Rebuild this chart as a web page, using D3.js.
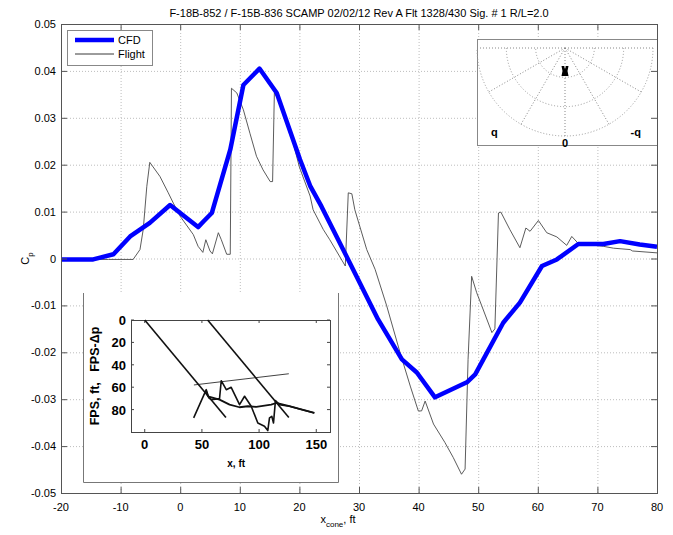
<!DOCTYPE html>
<html>
<head>
<meta charset="utf-8">
<script src="https://cdn.jsdelivr.net/npm/d3@7"></script>
<style>
  body { margin: 0; background: #fff; }
  text { font-family: "Liberation Sans", Arial, sans-serif; fill: #000; }
</style>
</head>
<body>
<script>
// ---- data ----
let title = 'F-18B-852 / F-15B-836 SCAMP 02/02/12 Rev A Flt 1328/430 Sig. # 1 R/L=2.0';
let seriesNames = ['CFD', 'Flight'];
let xTicks = [-20, -10, 0, 10, 20, 30, 40, 50, 60, 70, 80];
let yTicks = [-0.05, -0.04, -0.03, -0.02, -0.01, 0, 0.01, 0.02, 0.03, 0.04, 0.05];
let yTickLabels = ['-0.05', '-0.04', '-0.03', '-0.02', '-0.01', '0', '0.01', '0.02', '0.03', '0.04', '0.05'];

let cfdX  = [-20, -14.6, -11.2, -8.4, -5.1, -1.7, 3.0, 3.9, 5.3, 8.4, 10.6, 13.3, 16.2, 20.1, 21.8, 23.7, 27.9,
             33.2, 37.2, 39.7, 42.75, 48.1, 49.5, 54.2, 57.0, 60.7, 63.2, 66.8, 71.0, 73.8, 77.1, 80];
let cfdCp = [-0.0002, -0.0002, 0.0009, 0.0047, 0.0076, 0.0114, 0.0067, 0.0079, 0.0097, 0.0232, 0.037, 0.0405,
             0.0353, 0.0211, 0.0155, 0.0111, 0.0005, -0.013, -0.0215, -0.0243, -0.0296, -0.0264, -0.0247,
             -0.0137, -0.0094, -0.0016, -0.0002, 0.0031, 0.0031, 0.0037, 0.003, 0.0025];

let flightX  = [-20, -12, -7.9, -6.75, -6.2, -5.6, -5.1, -3.4, -2.0, -1.15, 0, 2.2, 3.0, 3.8, 4.3, 5.0, 5.4, 6.4,
                6.9, 7.8, 8.4, 8.6, 9.5, 10.6, 11.7, 12.8, 13.9, 15.1, 15.5, 15.8, 16.2, 18.4, 20.0, 21.8, 22.3,
                24.0, 25.1, 27.7, 28.2, 28.8, 29.3, 31.3, 32.7, 34.65, 36.9, 38.6, 39.95, 40.5, 41.1, 42.5, 44.4,
                45.8, 47.2, 47.8, 48.3, 48.9, 49.75, 50.6, 52.3, 52.8, 53.4, 53.8, 55.3, 57.0, 58.0, 58.7, 60.1,
                61.5, 63.2, 64.85, 65.7, 66.8, 71.0, 72.7, 75.5, 75.9, 80];
let flightCp = [-0.0002, -0.0002, -0.0002, 0.0019, 0.0062, 0.0154, 0.0205, 0.0175, 0.014, 0.0118, 0.009, 0.0051,
                0.0026, 0.0013, 0.004, 0.0016, 0.001, 0.0055, 0.004, 0.0009, 0.0009, 0.0363, 0.0353, 0.0317,
                0.0267, 0.0218, 0.0189, 0.0164, 0.0164, 0.0353, 0.0345, 0.0274, 0.0195, 0.0133, 0.0104, 0.0062,
                0.004, -0.0016, 0.014, 0.0138, 0.0104, 0.0019, -0.0023, -0.0101, -0.0201, -0.0272, -0.0325,
                -0.0325, -0.0304, -0.0353, -0.0392, -0.0424, -0.046, -0.0449, -0.0215, -0.0038, -0.0073,
                -0.0101, -0.0158, -0.015, 0.0097, 0.0099, 0.0062, 0.0023, 0.0065, 0.0058, 0.0081, 0.0055,
                0.0046, 0.0028, 0.0047, 0.0032, 0.0026, 0.0022, 0.0019, 0.0016, 0.0012];

// lower inset (FPS geometry), x ft / depth ft
let insetXTicks = [0, 50, 100, 150];
let insetYTicks = [0, 20, 40, 60, 80];
let rayAX = [0, 71],  rayAY = [0, 87];
let rayBX = [55, 126], rayBY = [0, 87];
let thinX = [43, 126], thinY = [58, 48];
let jagX = [42.8, 53.8, 56.1, 58.2, 65.4, 66.9, 71.3, 75.6, 82.9, 87.3, 93.1, 98.9, 104.7, 107.6, 109.1, 111.1,
            112.6, 114.3, 117.8, 126.5, 135.3, 148.3];
let jagY = [87.4, 62.2, 69.6, 71.1, 70.2, 54.2, 62.2, 60.1, 75.6, 68.1, 77.0, 91.9, 94.8, 98.7, 87.4, 86,
            91.9, 72, 75.6, 77.0, 79.4, 83];
let smoothX = [53.8, 55.3, 65.4, 74.2, 82.9, 90.2, 97.5, 110.6, 114.9, 126.5, 135.3, 148.3];
let smoothY = [64, 68.1, 71.1, 75.6, 77.9, 77.0, 77.6, 75.6, 74.1, 77.0, 79.4, 83];

// polar inset
let polarRings = [1, 2, 3];
let polarSpokes = [0, 30, 60, 90, 120, 150, 180];   // degrees, below horizontal
let polarLabels = ['q', '0', '-q'];
let polarLabelAngles = [-40, 0, 40];                // degrees from straight down, negative = left
let markTheta = 0, markR = 0.78;

// ---- canvas ----
let width = 673, height = 535;
let svg = d3.select('body').append('svg').attr('width', width).attr('height', height);

let x = d3.scaleLinear().domain([-20, 80]).range([61, 657]);
let y = d3.scaleLinear().domain([-0.05, 0.05]).range([493, 24]);

// grid
let grid = svg.append('g').attr('stroke', '#bdbdbd').attr('stroke-dasharray', '1,2').attr('stroke-width', 1);
grid.selectAll('.gx').data(xTicks.slice(1, -1)).enter().append('line')
   .attr('x1', d => x(d) + 0.5).attr('x2', d => x(d) + 0.5).attr('y1', y(0.05)).attr('y2', y(-0.05));
grid.selectAll('.gy').data(yTicks.slice(1, -1)).enter().append('line')
   .attr('x1', x(-20)).attr('x2', x(80)).attr('y1', d => y(d) + 0.5).attr('y2', d => y(d) + 0.5);

// curves
let line = d3.line().x(d => x(d[0])).y(d => y(d[1]));
svg.append('path').datum(d3.zip(flightX, flightCp)).attr('d', line)
   .attr('fill', 'none').attr('stroke', '#4a4a4a').attr('stroke-width', 0.9);
svg.append('path').datum(d3.zip(cfdX, cfdCp)).attr('d', line)
   .attr('fill', 'none').attr('stroke', '#0000ff').attr('stroke-width', 4.5).attr('stroke-linejoin', 'round');

// ---- polar inset ----
let pb = { x0: 477, y0: 39, x1: 657, y1: 145 };
let pg = svg.append('g');
pg.append('rect').attr('x', pb.x0 + 0.5).attr('y', pb.y0 + 0.5).attr('width', pb.x1 - pb.x0).attr('height', pb.y1 - pb.y0)
   .attr('fill', '#fff').attr('stroke', '#888').attr('stroke-width', 1);
let pc = { x: 565, y: 48 };
let r = d3.scaleLinear().domain([0, 3]).range([0, 88]);
let ringPath = (rr) => { let p = d3.path(); p.moveTo(pc.x + r(rr), pc.y); p.arc(pc.x, pc.y, r(rr), 0, Math.PI); return p.toString(); };
pg.selectAll('.ring').data(polarRings).enter().append('path')
   .attr('d', ringPath).attr('fill', 'none').attr('stroke', '#999').attr('stroke-dasharray', '1,2');
pg.selectAll('.spoke').data(polarSpokes).enter().append('line')
   .attr('x1', pc.x).attr('y1', pc.y)
   .attr('x2', d => pc.x + r(3) * Math.cos(d * Math.PI / 180))
   .attr('y2', d => pc.y + r(3) * Math.sin(d * Math.PI / 180))
   .attr('stroke', '#888').attr('stroke-dasharray', '1,2');
pg.selectAll('.plab').data(polarLabels).enter().append('text')
   .attr('x', (d, i) => pc.x + r(3.75) * Math.sin(polarLabelAngles[i] * Math.PI / 180))
   .attr('y', (d, i) => pc.y + (i === 1 ? r(3.25) : r(3.75)) * Math.cos(polarLabelAngles[i] * Math.PI / 180) + 4)
   .attr('text-anchor', 'middle').attr('font-size', 11).attr('font-weight', 'bold').text(d => d);
let mx = pc.x + r(markR) * Math.sin(markTheta), my = pc.y + r(markR) * Math.cos(markTheta);
pg.append('path')
   .attr('d', `M${mx - 3.5},${my - 5}L${mx - 1},${my - 5}L${mx},${my - 2}L${mx + 1},${my - 5}L${mx + 3.5},${my - 5}` +
              `L${mx + 2.5},${my}L${mx + 3.5},${my + 5}L${mx - 3.5},${my + 5}L${mx - 2.5},${my}Z`)
   .attr('fill', '#000');

// ---- lower inset ----
let ib = { x0: 83, y0: 293, x1: 338, y1: 482 };
let ig = svg.append('g');
ig.append('rect').attr('x', ib.x0).attr('y', ib.y0).attr('width', ib.x1 - ib.x0).attr('height', ib.y1 - ib.y0)
   .attr('fill', '#fff');
ig.append('path').attr('d', `M${ib.x0 + 0.5},${ib.y0}V${ib.y1 + 0.5}H${ib.x1 + 0.5}V${ib.y0}`)
   .attr('fill', 'none').attr('stroke', '#777').attr('stroke-width', 1);

let ix = d3.scaleLinear().domain([-12, 162]).range([131, 330]);
let iy = d3.scaleLinear().domain([0, 100]).range([320, 432]);
ig.append('rect').attr('x', ix(-12) + 0.5).attr('y', iy(0) + 0.5).attr('width', ix(162) - ix(-12)).attr('height', iy(100) - iy(0))
   .attr('fill', 'none').attr('stroke', '#444').attr('stroke-width', 1);
ig.selectAll('.itx').data(insetXTicks).enter().append('line')
   .attr('x1', d => ix(d)).attr('x2', d => ix(d)).attr('y1', iy(100)).attr('y2', iy(100) - 3).attr('stroke', '#444');
ig.selectAll('.itx2').data(insetXTicks).enter().append('line')
   .attr('x1', d => ix(d)).attr('x2', d => ix(d)).attr('y1', iy(0)).attr('y2', iy(0) + 3).attr('stroke', '#444');
ig.selectAll('.ity').data(insetYTicks).enter().append('line')
   .attr('x1', ix(-12)).attr('x2', ix(-12) + 3).attr('y1', d => iy(d)).attr('y2', d => iy(d)).attr('stroke', '#444');
ig.selectAll('.ity2').data(insetYTicks).enter().append('line')
   .attr('x1', ix(162)).attr('x2', ix(162) - 3).attr('y1', d => iy(d)).attr('y2', d => iy(d)).attr('stroke', '#444');
ig.selectAll('.ixl').data(insetXTicks).enter().append('text')
   .attr('x', d => ix(d)).attr('y', iy(100) + 17).attr('text-anchor', 'middle')
   .attr('font-size', 13).attr('font-weight', 'bold').text(d => d);
ig.selectAll('.iyl').data(insetYTicks).enter().append('text')
   .attr('x', ix(-12) - 5).attr('y', d => iy(d) + 5).attr('text-anchor', 'end')
   .attr('font-size', 13).attr('font-weight', 'bold').text(d => d);
ig.append('text').attr('x', ix(80)).attr('y', 467).attr('text-anchor', 'middle')
   .attr('font-size', 10).attr('font-weight', 'bold').text('x, ft');
ig.append('text').attr('transform', `translate(99,${(iy(0) + iy(100)) / 2}) rotate(-90)`)
   .attr('text-anchor', 'middle').attr('font-size', 12.5).attr('font-weight', 'bold')
   .attr('xml:space', 'preserve').text('FPS, ft,   FPS-Δp');

let iline = d3.line().x(d => ix(d[0])).y(d => iy(d[1]));
let insetPaths = [
   [d3.zip(rayAX, rayAY), 1.6], [d3.zip(rayBX, rayBY), 1.6], [d3.zip(thinX, thinY), 0.8],
   [d3.zip(jagX, jagY), 1.6], [d3.zip(smoothX, smoothY), 1.8]
];
insetPaths.forEach(p => {
   ig.append('path').datum(p[0]).attr('d', iline)
      .attr('fill', 'none').attr('stroke', '#111').attr('stroke-width', p[1]).attr('stroke-linejoin', 'round');
});

// ---- main axes frame and ticks ----
let ax = svg.append('g').attr('stroke', '#555').attr('stroke-width', 1);
ax.append('rect').attr('x', x(-20) + 0.5).attr('y', y(0.05) + 0.5).attr('width', x(80) - x(-20)).attr('height', y(-0.05) - y(0.05))
   .attr('fill', 'none');
ax.selectAll('.tb').data(xTicks).enter().append('line')
   .attr('x1', d => x(d) + 0.5).attr('x2', d => x(d) + 0.5).attr('y1', y(-0.05)).attr('y2', y(-0.05) - 6);
ax.selectAll('.tt').data(xTicks).enter().append('line')
   .attr('x1', d => x(d) + 0.5).attr('x2', d => x(d) + 0.5).attr('y1', y(0.05)).attr('y2', y(0.05) + 6);
ax.selectAll('.tl').data(yTicks).enter().append('line')
   .attr('x1', x(-20)).attr('x2', x(-20) + 6).attr('y1', d => y(d) + 0.5).attr('y2', d => y(d) + 0.5);
ax.selectAll('.tr').data(yTicks).enter().append('line')
   .attr('x1', x(80)).attr('x2', x(80) - 6).attr('y1', d => y(d) + 0.5).attr('y2', d => y(d) + 0.5);

svg.selectAll('.xl').data(xTicks).enter().append('text')
   .attr('x', d => x(d)).attr('y', y(-0.05) + 18).attr('text-anchor', 'middle')
   .attr('font-size', 11).text(d => d);
svg.selectAll('.yl').data(yTicks).enter().append('text')
   .attr('x', x(-20) - 5).attr('y', d => y(d) + 4).attr('text-anchor', 'end')
   .attr('font-size', 11).text((d, i) => yTickLabels[i]);

// axis labels and title
svg.append('text').attr('x', 359).attr('y', 17).attr('text-anchor', 'middle').attr('font-size', 11).text(title);
let xl = svg.append('text').attr('x', 338).attr('y', 523).attr('text-anchor', 'middle').attr('font-size', 11);
xl.append('tspan').text('x');
xl.append('tspan').attr('font-size', 8).attr('dy', 4).text('cone');
xl.append('tspan').attr('dy', -4).text(', ft');
let yl = svg.append('text').attr('transform', `translate(29,${y(0)}) rotate(-90)`).attr('text-anchor', 'middle').attr('font-size', 11);
yl.append('tspan').text('C');
yl.append('tspan').attr('font-size', 8).attr('dy', 4).text('p');

// ---- legend ----
let lg = svg.append('g');
lg.append('rect').attr('x', 67.5).attr('y', 30.5).attr('width', 85).attr('height', 35)
   .attr('fill', '#fff').attr('stroke', '#888');
let legendStyle = [['#0000ff', 4.5], ['#222', 0.9]];
seriesNames.forEach((name, i) => {
   let ly = 40 + i * 14;
   lg.append('line').attr('x1', 75).attr('x2', 114).attr('y1', ly).attr('y2', ly)
      .attr('stroke', legendStyle[i][0]).attr('stroke-width', legendStyle[i][1]);
   lg.append('text').attr('x', 118).attr('y', ly + 4).attr('font-size', 11).text(name);
});
</script>
</body>
</html>
